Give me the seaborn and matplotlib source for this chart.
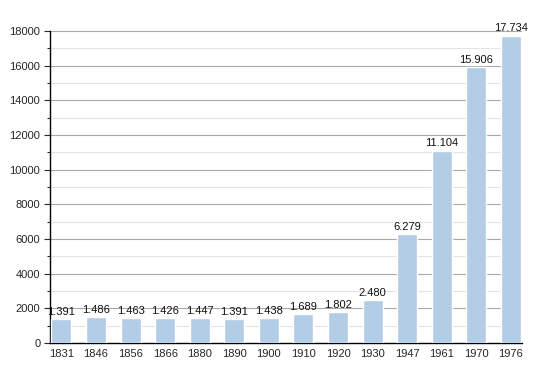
import seaborn as sns
import matplotlib.pyplot as plt
import pandas as pd
from matplotlib.ticker import MultipleLocator

years = ["1831", "1846", "1856", "1866", "1880", "1890", "1900",
         "1910", "1920", "1930", "1947", "1961", "1970", "1976"]
population = [1391, 1486, 1463, 1426, 1447, 1391, 1438,
              1689, 1802, 2480, 6279, 11104, 15906, 17734]
labels = ["1.391", "1.486", "1.463", "1.426", "1.447", "1.391", "1.438",
          "1.689", "1.802", "2.480", "6.279", "11.104", "15.906", "17.734"]

df = pd.DataFrame({"year": years, "pop": population})

sns.set_style("white")
plt.rcParams["font.family"] = ["Liberation Sans", "DejaVu Sans"]

fig = plt.figure(figsize=(5.5, 3.73), dpi=100)
ax = fig.add_axes([0.091, 0.080, 0.858, 0.837])

sns.barplot(data=df, x="year", y="pop", color="#b3cde6", saturation=1,
            width=0.58, ax=ax, zorder=3)

for i, (v, t) in enumerate(zip(population, labels)):
    ax.text(i, v + 120, t, ha="center", va="bottom", fontsize=8, color="#111111")

ax.set_ylim(0, 18000)
ax.set_xlim(-0.33, 13.32)
ax.yaxis.set_major_locator(MultipleLocator(2000))
ax.yaxis.set_minor_locator(MultipleLocator(1000))
ax.grid(axis="y", which="major", color="#a8a8a8", linewidth=0.8, zorder=0)
ax.grid(axis="y", which="minor", color="#e4e4e4", linewidth=0.8, zorder=0)
ax.set_axisbelow(True)

for s in ["top", "right"]:
    ax.spines[s].set_visible(False)
ax.spines["left"].set_color("black")
ax.spines["bottom"].set_color("black")
ax.spines["left"].set_linewidth(1)
ax.spines["bottom"].set_linewidth(1)

ax.tick_params(axis="y", which="major", left=True, length=4, width=0.8,
               labelsize=8, pad=3)
ax.tick_params(axis="y", which="minor", left=True, length=2, width=0.8)
ax.tick_params(axis="x", bottom=False, labelsize=8, pad=1)
ax.set_xlabel("")
ax.set_ylabel("")

fig.savefig("out.png", dpi=100)
